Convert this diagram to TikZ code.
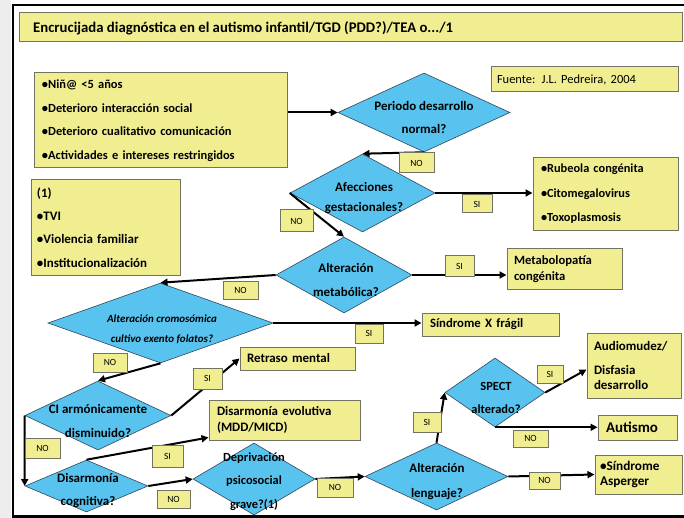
\documentclass[tikz,border=0pt]{standalone}
\usepackage{fontspec}
\setmainfont{Carlito}
\usetikzlibrary{shapes.geometric,arrows.meta}
\definecolor{boxyel}{RGB}{240,238,145}
\definecolor{diablue}{RGB}{88,195,238}
\definecolor{boxedge}{RGB}{115,115,100}
\definecolor{diaedge}{RGB}{50,70,90}
\begin{document}
\begin{tikzpicture}[x=1bp,y=-1bp,
  ybox/.style={draw=boxedge, fill=boxyel, line width=1bp, rectangle, inner sep=0pt},
  lbl/.style={ybox, font=\fontsize{9.5}{10}\selectfont},
  dia/.style={diamond, draw=diaedge, fill=diablue, line width=0.6bp, inner sep=0pt},
  dtxt/.style={align=center, inner sep=0pt, font=\bfseries\fontsize{13}{23.5}\selectfont},
  btxt/.style={align=left, font=\bfseries\fontsize{12.5}{23.7}\selectfont},
  arr/.style={line width=2bp, -{Triangle[length=7bp,width=7bp]}}]
\useasboundingbox (0,0) rectangle (684,518);
\fill[gray!14] (0,0) rectangle (11,518);
\fill[white] (13,5) rectangle (684,516);
\draw[line width=2bp] (13,518) -- (13,5) -- (684,5);
\draw[line width=3bp] (13,516.5) -- (684,516.5);

% title and source
\node[ybox, minimum width=662bp, minimum height=29bp] (title) at (351,27.5) {};
\node[anchor=west, inner sep=0pt, font=\bfseries\fontsize{14.8}{17}\selectfont] (titletxt) at (33,28) {Encrucijada diagnóstica en el autismo infantil/TGD (PDD?)/TEA o.../1};
\node[ybox, minimum width=187bp, minimum height=25bp, text width=175bp, align=left, font=\fontsize{12.5}{14}\selectfont] (src) at (584.5,79.5) {Fuente: J.L. Pedreira, 2004};

% text boxes
\node[ybox, btxt, minimum width=252bp, minimum height=95bp, text width=238bp] (crit) at (161,120.5)
  {•Niñ@ <5 años\\•Deterioro interacción social\\•Deterioro cualitativo comunicación\\•Actividades e intereses restringidos};
\node[ybox, btxt, minimum width=148bp, minimum height=95bp, text width=138bp, font=\bfseries\fontsize{13}{23.3}\selectfont] (one) at (106,227.5)
  {(1)\\•TVI\\•Violencia familiar\\•Institucionalización};
\node[ybox, btxt, minimum width=145bp, minimum height=72bp, text width=129bp, font=\bfseries\fontsize{12.4}{24.5}\selectfont] (rub) at (605.5,194)
  {•Rubeola congénita\\•Citomegalovirus\\•Toxoplasmosis};
\node[ybox, btxt, minimum width=115bp, minimum height=40bp, text width=101bp, font=\bfseries\fontsize{12.7}{16}\selectfont] (meta) at (564.5,269)
  {Metabolopatía\\congénita};
\node[ybox, btxt, minimum width=137bp, minimum height=23bp, text width=121bp, font=\bfseries\fontsize{12.8}{14}\selectfont] (sxf) at (490.5,324.5)
  {Síndrome X frágil};
\node[ybox, btxt, minimum width=115bp, minimum height=23bp, text width=101bp, font=\bfseries\fontsize{13}{14}\selectfont] (ret) at (297.5,358.5)
  {Retraso mental};
\node[ybox, btxt, minimum width=151bp, minimum height=40bp, text width=135bp, font=\bfseries\fontsize{12.9}{16}\selectfont] (disev) at (284.5,420)
  {Disarmonía evolutiva\\(MDD/MICD)};
\node[ybox, btxt, minimum width=94bp, minimum height=65bp, text width=80bp, font=\bfseries\fontsize{13}{14.5}\selectfont] (audio) at (634,365.5)
  {Audiomudez/\\[10bp]Disfasia\\desarrollo};
\node[ybox, btxt, minimum width=79bp, minimum height=25bp, text width=63bp, font=\bfseries\fontsize{15}{16}\selectfont] (aut) at (637.5,427.5)
  {Autismo};
\node[ybox, btxt, minimum width=87bp, minimum height=39bp, text width=77bp, font=\bfseries\fontsize{13.3}{15}\selectfont] (asp) at (638.5,474.5)
  {•Síndrome\\Asperger};

% diamonds
\node[dia, minimum width=172bp, minimum height=79bp] (d1) at (424,112.5) {};
\node[dtxt] (t1) at (424,117.5) {Periodo desarrollo\\normal?};
\node[dia, minimum width=145bp, minimum height=78bp] (d2) at (362.5,193) {};
\node[dtxt, font=\bfseries\fontsize{13}{20}\selectfont] (t2) at (364,198) {Afecciones\\gestacionales?};
\node[dia, minimum width=136bp, minimum height=76bp] (d3) at (344,275) {};
\node[dtxt, font=\bfseries\fontsize{13}{24}\selectfont] (t3) at (346,280) {Alteración\\metabólica?};
\node[dia, minimum width=225bp, minimum height=80bp] (d4) at (160.5,323) {};
\node[dtxt, font=\bfseries\itshape\fontsize{11}{20}\selectfont] (t4) at (162,329) {Alteración cromosómica\\cultivo exento folatos?};
\node[dia, minimum width=146bp, minimum height=69bp] (d5) at (98,415.5) {};
\node[dtxt, font=\bfseries\fontsize{13}{24}\selectfont] (t5) at (98,421) {CI armónicamente\\disminuido?};
\node[dia, minimum width=123bp, minimum height=52bp] (d6) at (86.5,486) {};
\node[dtxt, font=\bfseries\fontsize{13}{23}\selectfont] (t6) at (88,490.5) {Disarmonía\\cognitiva?};
\node[dia, minimum width=122bp, minimum height=72bp] (d7) at (254,479) {};
\node[dtxt, font=\bfseries\fontsize{12.5}{23.5}\selectfont] (t7) at (254,481.5) {Deprivación\\psicosocial\\grave?(1)};
\node[dia, minimum width=143bp, minimum height=67bp] (d8) at (436.5,476.5) {};
\node[dtxt, font=\bfseries\fontsize{13}{25}\selectfont] (t8) at (437,481.5) {Alteración\\lenguaje?};
\node[dia, minimum width=100bp, minimum height=69bp] (d9) at (495,392.5) {};
\node[dtxt, font=\bfseries\fontsize{12.5}{24}\selectfont] (t9) at (496,398) {SPECT\\alterado?};

% connectors
\draw[arr] (crit.east |- d1.west) -- (d1.west);
\draw[arr] (d1.south) -- (d2.north);
\draw[arr] (d2.east) -- (rub.west |- d2.east);
\draw[arr] (d2.west) -- (d3.north);
\draw[arr] (d3.east) -- (meta.west |- d3.east);
\draw[arr] (d3.west) -- (d4.north);
\draw[arr] (d4.east) -- (sxf.west |- d4.east);
\draw[arr] (d4.south) -- (d5.north);
\draw[arr] (d5.east) -- (ret.west);
\draw[arr] (d5.west) -- (d6.west);
\draw[arr] (d6.north) -- ([yshift=3bp]disev.south west);
\draw[arr] (d6.east) -- (d7.west);
\draw[arr] (d7.east) -- (d8.west);
\draw[arr] (d8.north) -- (d9.west);
\draw[arr] (d9.east) -- ([yshift=-4bp]audio.west);
\draw[arr] (d9.south) -- (aut.west |- d9.south);
\draw[arr] (d8.east) -- (asp.west);

% labels
\node[lbl, minimum width=35bp, minimum height=20bp] (l1) at (416.5,163) {NO};
\node[lbl, minimum width=30bp, minimum height=18bp] (l2) at (477,204) {SI};
\node[lbl, minimum width=33bp, minimum height=22bp] (l3) at (296.5,221) {NO};
\node[lbl, minimum width=29bp, minimum height=20bp] (l4) at (459.5,266) {SI};
\node[lbl, minimum width=35bp, minimum height=18bp] (l5) at (240.5,290.5) {NO};
\node[lbl, minimum width=28bp, minimum height=19bp] (l6) at (369,333.5) {SI};
\node[lbl, minimum width=34bp, minimum height=19bp] (l7) at (110,362.5) {NO};
\node[lbl, minimum width=29bp, minimum height=21bp] (l8) at (207.5,378.5) {SI};
\node[lbl, minimum width=35bp, minimum height=20bp] (l9) at (42.5,448) {NO};
\node[lbl, minimum width=31bp, minimum height=22bp] (l10) at (167.5,456) {SI};
\node[lbl, minimum width=33bp, minimum height=18bp] (l11) at (173.5,499) {NO};
\node[lbl, minimum width=36bp, minimum height=19bp] (l12) at (335,487.5) {NO};
\node[lbl, minimum width=28bp, minimum height=20bp] (l13) at (427,422) {SI};
\node[lbl, minimum width=26bp, minimum height=18bp] (l14) at (550,374) {SI};
\node[lbl, minimum width=35bp, minimum height=17bp] (l15) at (530.5,438.5) {NO};
\node[lbl, minimum width=31bp, minimum height=17bp] (l16) at (544.5,480.5) {NO};
\end{tikzpicture}
\end{document}
